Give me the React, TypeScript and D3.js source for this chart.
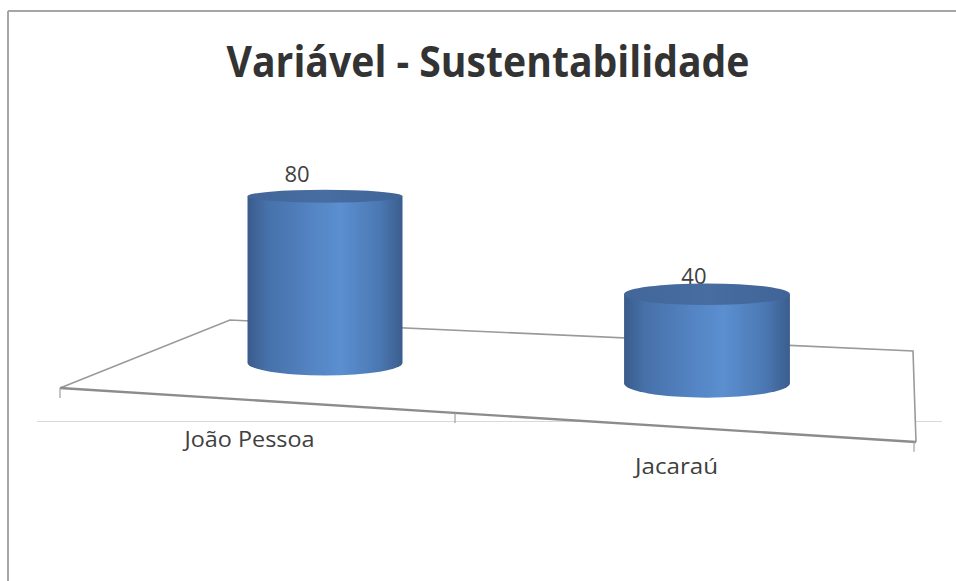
import React from "react";
import * as d3 from "d3";

const categories: string[] = ["João Pessoa", "Jacaraú"];
const values: number[] = [80, 40];
const valueLabels: string[] = ["80", "40"];
const title = "Variável - Sustentabilidade";

const W = 956;
const H = 581;

// floor (3D plane) corners
const floorBL: [number, number] = [230, 320];
const floorBR: [number, number] = [913, 351];
const floorFR: [number, number] = [916, 442];
const floorFL: [number, number] = [60, 388];

export default function App() {
  const xBand = d3.scaleBand<string>().domain(categories).range([134, 898]);
  const floorCenterY = d3.scaleLinear().domain([145, 914.5]).range([353, 394.5]);
  const persp = d3.scaleLinear().domain([325, 707]).range([1, 1.07]);
  const hScale = d3.scaleLinear().domain([0, 80]).range([0, 166.5]);
  const frontX = d3.scaleLinear().domain([0, 1, 2]).range([60, 455, 914]);
  const frontY = d3
    .scaleLinear()
    .domain([floorFL[0], floorFR[0]])
    .range([floorFL[1], floorFR[1]]);

  const ryAt = (y: number, p: number) => 0.0372 * (y - 22) * p;

  const cyl = categories.map((c, i) => {
    const cx = (xBand(c) as number) + xBand.bandwidth() / 2;
    const p = persp(cx);
    const rx = 77.5 * p;
    const by = floorCenterY(cx);
    const ty = by - hScale(values[i]) * p;
    return {
      c,
      cx,
      rx,
      by,
      ty,
      ryB: ryAt(by, p),
      ryT: ryAt(ty, p),
      lx: cx - 28 + (cx - 325) * 0.039,
      ly: ty - 14 + (cx - 325) * 0.01,
    };
  });

  const line = d3.line();
  const textColor = "#404040";
  const font = "'Open Sans', 'Noto Sans', sans-serif";
  const catWidths = [130, 83];

  return (
    <svg
      width={W}
      height={H}
      viewBox={`0 0 ${W} ${H}`}
      style={{ position: "absolute", left: 0, top: 0, background: "#fff" }}
    >
      <defs>
        <linearGradient id="side" x1="0" y1="0" x2="1" y2="0">
          <stop offset="0%" stopColor="#3a5b8b" />
          <stop offset="12%" stopColor="#4670a8" />
          <stop offset="40%" stopColor="#5383c2" />
          <stop offset="60%" stopColor="#5b8fd0" />
          <stop offset="85%" stopColor="#4b78b3" />
          <stop offset="100%" stopColor="#3b5d8d" />
        </linearGradient>
        <linearGradient id="top" x1="0" y1="0" x2="1" y2="0">
          <stop offset="0%" stopColor="#42669a" />
          <stop offset="50%" stopColor="#476da1" />
          <stop offset="100%" stopColor="#406497" />
        </linearGradient>
      </defs>

      {/* outer border */}
      <line x1={8} y1={11} x2={W} y2={11} stroke="#a6a6a6" strokeWidth={2} />
      <line x1={8} y1={11} x2={8} y2={H} stroke="#a6a6a6" strokeWidth={2} />

      {/* title */}
      <text
        x={488}
        y={77}
        textAnchor="middle"
        fontFamily={font}
        fontWeight="bold"
        fontSize={43}
        fill="#333333"
        textLength={523}
        lengthAdjust="spacingAndGlyphs"
      >
        {title}
      </text>

      {/* horizontal baseline */}
      <line x1={37} y1={421.5} x2={942} y2={421.5} stroke="#d9d9d9" strokeWidth={1} />

      {/* floor */}
      <path
        d={line([floorFL, floorBL, floorBR, floorFR]) as string}
        fill="#ffffff"
        stroke="#9a9a9a"
        strokeWidth={1.6}
      />
      <path
        d={line([floorFL, floorFR]) as string}
        fill="none"
        stroke="#8c8c8c"
        strokeWidth={2.4}
      />

      {/* ticks on front edge */}
      {[0, 1, 2].map((t) => {
        const x = frontX(t);
        const y = frontY(x);
        return (
          <line key={t} x1={x} y1={y} x2={x} y2={y + 10} stroke="#a0a0a0" strokeWidth={1.2} />
        );
      })}

      {/* value labels (behind cylinders) */}
      {cyl.map((d, i) => (
        <text
          key={"v" + i}
          x={d.lx}
          y={d.ly}
          textAnchor="middle"
          fontFamily={font}
          fontSize={22}
          fill={textColor}
        >
          {valueLabels[i]}
        </text>
      ))}

      {/* cylinders */}
      {cyl.map((d, i) => (
        <g key={"c" + i}>
          <path
            d={`M${d.cx - d.rx},${d.ty} L${d.cx - d.rx},${d.by} A${d.rx},${d.ryB} 0 0 0 ${d.cx + d.rx},${d.by} L${d.cx + d.rx},${d.ty} Z`}
            fill="url(#side)"
          />
          <ellipse cx={d.cx} cy={d.ty} rx={d.rx} ry={d.ryT} fill="url(#top)" />
        </g>
      ))}

      {/* category labels */}
      {categories.map((c, i) => {
        const x = frontX(i + 0.5) - 8;
        const y = frontY(x) + 47;
        return (
          <text
            key={"l" + i}
            x={x}
            y={y}
            textAnchor="middle"
            fontFamily={font}
            fontSize={22}
            fill={textColor}
            textLength={catWidths[i]}
            lengthAdjust="spacingAndGlyphs"
          >
            {c}
          </text>
        );
      })}
    </svg>
  );
}
